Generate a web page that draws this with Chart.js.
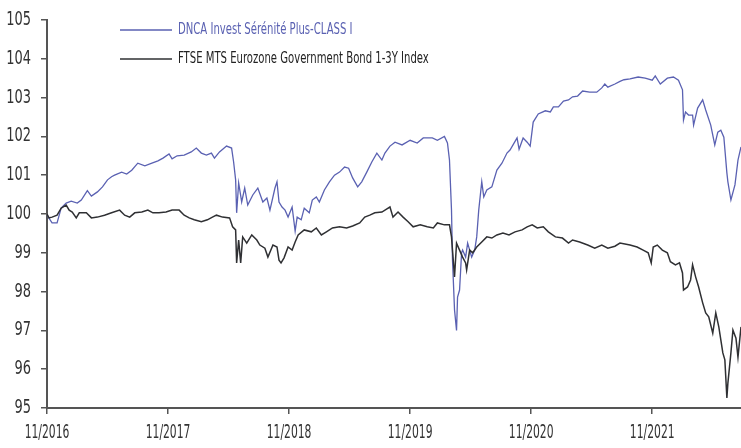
<!DOCTYPE html>
<html>
<head>
<meta charset="utf-8">
<script src="https://cdn.jsdelivr.net/npm/chart.js@4"></script>
<style>
  html, body { margin: 0; padding: 0; background: #fff; }
  #wrap { width: 741px; height: 448px; }
</style>
</head>
<body>
<div id="wrap"><canvas id="chart"></canvas></div>
<script>
// months since 11/2016 on the x axis
const tickLabels = ['11/2016', '11/2017', '11/2018', '11/2019', '11/2020', '11/2021'];

const fundLabel = 'DNCA Invest Sérénité Plus-CLASS I';
const fundMonths = [0.0, 0.5, 1.0, 1.4, 1.9, 2.4, 3.0, 3.4, 4.0, 4.4, 5.0, 5.5, 6.0, 6.4, 6.7, 7.4, 7.9, 8.4, 9.0, 9.7,
  10.4, 11.0, 11.5, 12.1, 12.4, 12.9, 13.6, 14.3, 14.8, 15.3, 15.8, 16.3, 16.6, 17.1, 17.8, 18.3, 18.5, 18.7, 18.8, 19.0,
  19.3, 19.6, 19.9, 20.4, 20.9, 21.4, 21.8, 22.1, 22.6, 22.8, 23.0, 23.3, 23.6, 23.9, 24.3, 24.6, 24.8, 25.2, 25.5, 26.0,
  26.3, 26.7, 27.0, 27.5, 28.0, 28.5, 29.0, 29.5, 29.9, 30.3, 30.8, 31.2, 31.7, 32.2, 32.7, 33.2, 33.5, 34.0, 34.5, 35.2,
  36.0, 36.7, 37.3, 38.2, 38.7, 39.4, 39.7, 39.9, 40.1, 40.2, 40.4, 40.6, 40.7, 40.9, 41.1, 41.2, 41.5, 41.7, 42.1, 42.4,
  42.6, 42.8, 43.1, 43.3, 43.6, 44.1, 44.6, 45.1, 45.6, 45.9, 46.2, 46.6, 46.8, 47.2, 47.6, 47.9, 48.2, 48.7, 49.4, 49.9,
  50.2, 50.7, 51.2, 51.7, 52.1, 52.6, 53.1, 53.8, 54.5, 55.0, 55.3, 55.6, 56.3, 56.8, 57.2, 57.8, 58.6, 59.3, 60.0, 60.3,
  60.8, 61.5, 62.1, 62.6, 63.0, 63.1, 63.3, 63.6, 64.0, 64.1, 64.5, 65.0, 65.3, 65.8, 66.2, 66.5, 66.8, 67.1, 67.4, 67.5,
  67.8, 68.2, 68.5, 68.8];
const fundValues = [99.97, 99.77, 99.77, 100.15, 100.28, 100.33, 100.28, 100.36, 100.6, 100.46, 100.57, 100.7, 100.88, 100.96, 101.0, 101.08, 101.03, 101.13, 101.31, 101.24,
  101.31, 101.37, 101.44, 101.55, 101.42, 101.5, 101.52, 101.6, 101.7, 101.57, 101.52, 101.57, 101.44, 101.6, 101.75, 101.7, 101.34, 100.88, 100.03, 100.8,
  100.31, 100.67, 100.23, 100.49, 100.67, 100.31, 100.41, 100.1, 100.67, 100.83, 100.31, 100.18, 100.1, 99.92, 100.18, 99.56, 99.92, 99.85, 100.15, 100.03,
  100.36, 100.44, 100.31, 100.62, 100.83, 101.0, 101.08, 101.21, 101.18, 100.93, 100.7, 100.83, 101.08, 101.34, 101.57, 101.39, 101.57, 101.75, 101.85, 101.78,
  101.9, 101.83, 101.96, 101.96, 101.9, 102.0, 101.83, 101.39, 100.1, 98.81, 97.53, 97.0, 97.86, 98.04, 99.0, 99.07, 98.89, 99.25, 98.89, 99.07,
  99.41, 100.1, 100.83, 100.44, 100.62, 100.7, 101.13, 101.31, 101.57, 101.65, 101.78, 101.96, 101.67, 101.96, 101.85, 101.75, 102.37, 102.58, 102.66, 102.63,
  102.76, 102.76, 102.91, 102.94, 103.02, 103.04, 103.17, 103.14, 103.14, 103.25, 103.35, 103.27, 103.35, 103.42, 103.46, 103.48, 103.53, 103.5, 103.45, 103.56,
  103.35, 103.5, 103.53, 103.45, 103.2, 102.42, 102.63, 102.55, 102.55, 102.29, 102.73, 102.94, 102.68, 102.29, 101.78, 102.11, 102.16, 101.98, 101.06, 100.83,
  100.36, 100.75, 101.39, 101.73];

const indexLabel = 'FTSE MTS Eurozone Government Bond 1-3Y Index';
const indexMonths = [0.0, 0.2, 0.5, 1.0, 1.4, 1.9, 2.2, 2.5, 2.9, 3.2, 3.9, 4.4, 5.0, 5.7, 6.4, 7.2, 7.7, 8.2, 8.7, 9.4,
  10.0, 10.5, 11.1, 11.8, 12.4, 13.1, 13.6, 14.1, 14.6, 15.3, 15.9, 16.4, 16.8, 17.4, 18.1, 18.4, 18.7, 18.8, 19.0, 19.2,
  19.4, 19.8, 20.3, 20.8, 21.1, 21.6, 21.9, 22.4, 22.8, 23.0, 23.2, 23.5, 23.9, 24.3, 24.6, 24.9, 25.5, 26.2, 26.7, 27.2,
  27.7, 28.3, 29.0, 29.7, 30.3, 31.0, 31.5, 32.0, 32.5, 33.2, 33.7, 34.0, 34.3, 34.8, 35.3, 35.8, 36.3, 37.0, 37.7, 38.3,
  38.7, 39.4, 39.9, 40.1, 40.4, 40.6, 40.9, 41.2, 41.5, 41.6, 41.9, 42.2, 42.6, 43.1, 43.6, 44.1, 44.6, 45.2, 45.8, 46.4,
  47.1, 47.6, 48.1, 48.6, 49.2, 49.7, 50.4, 51.1, 51.7, 52.1, 52.8, 53.6, 54.3, 55.0, 55.6, 56.3, 56.8, 57.8, 58.5, 59.1,
  59.6, 59.9, 60.1, 60.5, 61.0, 61.5, 61.8, 62.3, 62.7, 63.0, 63.1, 63.5, 63.8, 64.0, 64.3, 64.6, 65.0, 65.3, 65.6, 66.0,
  66.3, 66.6, 67.0, 67.2, 67.4, 67.5, 67.8, 68.0, 68.3, 68.5, 68.8];
const indexValues = [100.0, 99.9, 99.92, 99.97, 100.15, 100.23, 100.1, 100.05, 99.9, 100.03, 100.03, 99.9, 99.92, 99.97, 100.03, 100.1, 99.97, 99.92, 100.03, 100.05,
  100.1, 100.03, 100.03, 100.05, 100.1, 100.1, 99.97, 99.9, 99.85, 99.8, 99.85, 99.92, 99.97, 99.92, 99.9, 99.67, 99.59, 98.74, 99.33, 98.74,
  99.41, 99.25, 99.46, 99.33, 99.2, 99.12, 98.89, 99.2, 99.15, 98.81, 98.74, 98.87, 99.15, 99.07, 99.28, 99.46, 99.59, 99.54, 99.64, 99.46,
  99.54, 99.64, 99.67, 99.64, 99.69, 99.77, 99.92, 99.97, 100.03, 100.05, 100.13, 100.18, 99.92, 100.05, 99.92, 99.8, 99.67, 99.72, 99.67, 99.64,
  99.77, 99.72, 99.72, 99.41, 98.38, 99.25, 99.07, 98.89, 98.74, 98.56, 99.07, 99.0, 99.15, 99.28, 99.41, 99.38, 99.46, 99.51, 99.46, 99.54,
  99.59, 99.67, 99.72, 99.64, 99.67, 99.54, 99.41, 99.38, 99.25, 99.33, 99.28, 99.2, 99.12, 99.2, 99.12, 99.17, 99.25, 99.2, 99.15, 99.07,
  99.0, 98.74, 99.15, 99.2, 99.07, 99.0, 98.77, 98.69, 98.74, 98.48, 98.04, 98.12, 98.3, 98.69, 98.38, 98.12, 97.71, 97.45, 97.35, 96.93,
  97.45, 97.09, 96.42, 96.24, 95.26, 95.64, 96.42, 97.01, 96.8, 96.31, 97.09];

const FONT = "'Liberation Sans Narrow', 'DejaVu Sans Condensed', 'Roboto', sans-serif";
const AXIS_COLOR = '#555555';
const FUND_COLOR = '#5a61b2';
const INDEX_COLOR = '#2f3033';
const LABEL_COLOR = '#333333';

function toPoints(xs, ys) {
  return xs.map((x, i) => ({ x: x, y: ys[i] }));
}

// text squeezed horizontally, the original uses a condensed face
function narrowText(ctx, text, x, y, squeeze) {
  ctx.save();
  ctx.translate(x, y);
  ctx.scale(squeeze, 1);
  ctx.fillText(text, 0, 0);
  ctx.restore();
}

// legend inside the plot plus condensed tick labels
const condensedText = {
  id: 'condensedText',
  afterDraw(chart) {
    const ctx = chart.ctx;
    const xs = chart.scales.x;
    const ys = chart.scales.y;

    ctx.save();
    ctx.fillStyle = LABEL_COLOR;
    ctx.font = '19px ' + FONT;
    ctx.textBaseline = 'middle';

    ctx.textAlign = 'right';
    ys.ticks.forEach(t => {
      narrowText(ctx, String(t.value), 31, ys.getPixelForValue(t.value), 0.76);
    });

    ctx.textAlign = 'center';
    xs.ticks.forEach(t => {
      narrowText(ctx, tickLabels[Math.round(t.value / 12)], xs.getPixelForValue(t.value), 433, 0.63);
    });

    const rows = [
      { text: fundLabel, color: FUND_COLOR, y: 30 },
      { text: indexLabel, color: INDEX_COLOR, y: 59 }
    ];
    ctx.font = '16px ' + FONT;
    ctx.textAlign = 'left';
    rows.forEach(r => {
      ctx.strokeStyle = r.color;
      ctx.lineWidth = 1.3;
      ctx.beginPath();
      ctx.moveTo(120, r.y);
      ctx.lineTo(172, r.y);
      ctx.stroke();
      ctx.fillStyle = r.color === FUND_COLOR ? FUND_COLOR : '#222';
      narrowText(ctx, r.text, 178, r.y, 0.7);
    });
    ctx.restore();
  }
};

const ctx = document.getElementById('chart').getContext('2d');
const chart = new Chart(ctx, {
  type: 'line',
  data: {
    datasets: [
      {
        label: fundLabel,
        data: toPoints(fundMonths, fundValues),
        borderColor: FUND_COLOR,
        borderWidth: 1.3,
        pointRadius: 0,
        tension: 0,
        order: 1
      },
      {
        label: indexLabel,
        data: toPoints(indexMonths, indexValues),
        borderColor: INDEX_COLOR,
        borderWidth: 1.5,
        pointRadius: 0,
        tension: 0,
        order: 0
      }
    ]
  },
  options: {
    responsive: true,
    maintainAspectRatio: false,
    animation: false,
    layout: { padding: { top: 20, right: 0, left: 0, bottom: 0 } },
    plugins: {
      legend: { display: false },
      tooltip: { enabled: false }
    },
    scales: {
      x: {
        type: 'linear',
        min: 0,
        max: 68.8,
        afterBuildTicks: (scale) => {
          scale.ticks = tickLabels.map((_, i) => ({ value: i * 12 }));
        },
        afterFit: (scale) => { scale.height = 40; },
        ticks: {
          // drawn by the condensedText plugin
          callback: (v) => tickLabels[Math.round(v / 12)],
          font: { family: FONT, size: 16 },
          color: 'rgba(0,0,0,0)',
          padding: 6,
          maxRotation: 0
        },
        grid: {
          drawOnChartArea: false,
          drawTicks: true,
          tickLength: 6,
          color: AXIS_COLOR,
          lineWidth: 1.5
        },
        border: { display: true, color: AXIS_COLOR, width: 2 }
      },
      y: {
        min: 95,
        max: 105,
        afterFit: (scale) => { scale.width = 47; },
        ticks: {
          stepSize: 1,
          font: { family: FONT, size: 17 },
          color: 'rgba(0,0,0,0)',
          padding: 9
        },
        grid: {
          drawOnChartArea: false,
          drawTicks: true,
          tickLength: 6,
          color: AXIS_COLOR,
          lineWidth: 1.5
        },
        border: { display: true, color: AXIS_COLOR, width: 2 }
      }
    }
  },
  plugins: [condensedText]
});
</script>
</body>
</html>
